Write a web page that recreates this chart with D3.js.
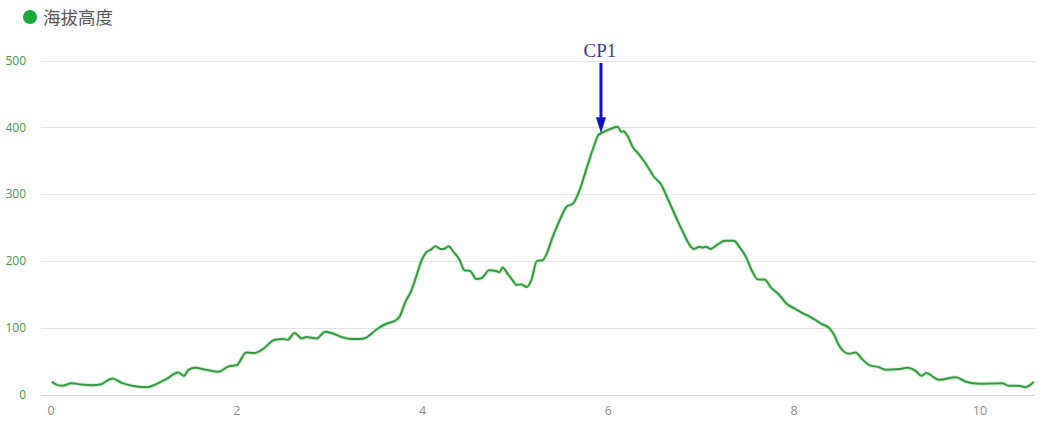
<!DOCTYPE html>
<html><head><meta charset="utf-8">
<script src="https://cdn.jsdelivr.net/npm/d3@7/dist/d3.min.js"></script>
<style>body{margin:0;background:#fff;}svg{display:block;}</style>
</head><body><svg id="c" width="1042" height="424"></svg>
<script>
const distances = [0.01,0.04,0.12,0.22,0.33,0.44,0.53,0.66,0.77,0.92,1.03,1.14,1.24,1.37,1.43,1.48,1.55,1.67,1.80,1.91,2.00,2.10,2.19,2.28,2.41,2.50,2.55,2.62,2.70,2.75,2.86,2.95,3.02,3.13,3.23,3.32,3.39,3.50,3.63,3.68,3.75,3.81,3.88,3.93,3.99,4.04,4.09,4.14,4.19,4.23,4.28,4.33,4.40,4.45,4.51,4.58,4.63,4.67,4.71,4.79,4.83,4.86,4.92,4.97,5.01,5.06,5.12,5.17,5.23,5.29,5.33,5.40,5.47,5.55,5.62,5.69,5.76,5.83,5.89,5.92,5.98,6.05,6.10,6.14,6.16,6.21,6.26,6.32,6.41,6.49,6.57,6.62,6.71,6.80,6.89,6.92,6.98,7.01,7.05,7.10,7.18,7.25,7.35,7.41,7.48,7.55,7.61,7.68,7.75,7.84,7.91,8.00,8.09,8.20,8.29,8.38,8.43,8.48,8.59,8.66,8.73,8.81,8.91,8.99,9.13,9.22,9.31,9.37,9.42,9.56,9.74,9.85,9.99,10.24,10.31,10.42,10.49,10.58];
const elevations = [19,16,13,17,15,14,15,24,17,12,11,16,23,33,28,37,40,37,34,42,44,63,62,68,82,83,82,92,84,86,84,94,92,86,83,83,85,97,107,109,116,137,156,176,201,213,217,222,218,218,222,214,201,186,185,173,174,179,186,185,183,190,180,171,164,165,161,171,200,201,209,236,259,281,286,306,336,366,388,391,395,399,401,393,394,386,371,361,344,326,314,299,271,244,221,218,221,220,221,218,225,230,230,221,206,184,172,172,160,149,137,129,122,114,106,99,89,74,61,63,53,44,41,37,38,40,35,28,32,22,26,19,16,17,13,13,11,19];
const xTicks = [0,2,4,6,8,10];
const yTicks = [0,100,200,300,400,500];
const seriesName = "海拔高度";
const annotation = {label: "CP1", distance: 5.92, elevation: 391};

const svg = d3.select("#c");
const x = d3.scaleLinear().domain([0, 10]).range([51, 980]);
const y = d3.scaleLinear().domain([0, 500]).range([394.5, 60.5]);
const gx0 = 41, gx1 = 1035;

// grid
svg.append("g").selectAll("line").data(yTicks).join("line")
  .attr("x1", gx0).attr("x2", gx1)
  .attr("y1", d => Math.round(y(d)) + 0.5).attr("y2", d => Math.round(y(d)) + 0.5)
  .attr("stroke", d => d === 0 ? "#cfd6dc" : "#e2e2e2").attr("stroke-width", 1);

// y labels
svg.append("g").selectAll("text").data(yTicks).join("text")
  .attr("x", 26).attr("y", d => y(d)).attr("dy", "0.35em")
  .attr("text-anchor", "end").attr("fill", "#3f9a4d")
  .style("font-family", "'Open Sans', 'DejaVu Sans', sans-serif").style("font-size", "12px")
  .text(d => d);

// x labels
svg.append("g").selectAll("text").data(xTicks).join("text")
  .attr("x", d => x(d)).attr("y", 415)
  .attr("text-anchor", "middle").attr("fill", "#8a8a8a")
  .style("font-family", "'Open Sans', 'DejaVu Sans', sans-serif").style("font-size", "12.5px")
  .text(d => d);

// line
const pts = distances.map((d, i) => [d, elevations[i]]);
const line = d3.line().x(d => x(d[0])).y(d => y(d[1])).curve(d3.curveMonotoneX);
svg.append("path").datum(pts).attr("d", line)
  .attr("fill", "none").attr("stroke", "#b9e8b9").attr("stroke-width", 4).attr("opacity", 0.6);
svg.append("path").datum(pts).attr("d", line)
  .attr("fill", "none").attr("stroke", "#2f9a3e").attr("stroke-width", 2).attr("stroke-linejoin", "round");

// legend
svg.append("circle").attr("cx", 30).attr("cy", 17).attr("r", 7).attr("fill", "#1aa83a");
svg.append("text").attr("x", 43).attr("y", 23.5).attr("fill", "#555")
  .style("font-family", "'Noto Sans CJK SC', sans-serif").style("font-size", "17.5px")
  .text(seriesName);

// annotation
const ax = x(annotation.distance), ay = y(annotation.elevation);
svg.append("line").attr("x1", ax).attr("x2", ax).attr("y1", 63).attr("y2", ay - 12)
  .attr("stroke", "#1010c8").attr("stroke-width", 3);
svg.append("path")
  .attr("d", `M${ax-5},${ay-16} L${ax+5},${ay-16} L${ax},${ay} Z`)
  .attr("fill", "#1010c8");
svg.append("text").attr("x", ax - 1).attr("y", 57).attr("text-anchor", "middle")
  .attr("fill", "#3a3a90")
  .style("font-family", "'Liberation Serif', 'DejaVu Serif', serif").style("font-size", "19px")
  .text(annotation.label);
</script></body></html>
